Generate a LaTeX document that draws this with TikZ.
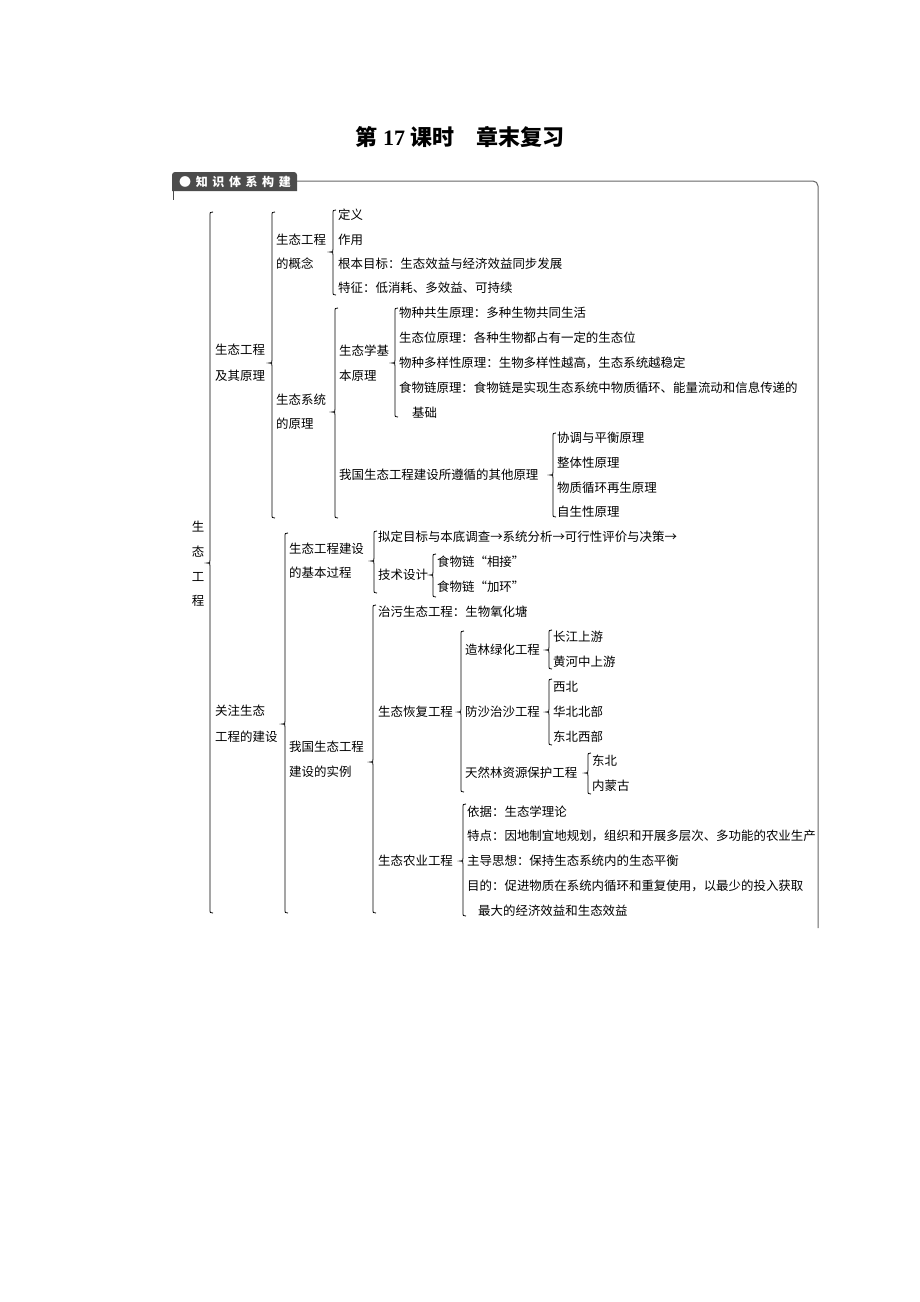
\documentclass[tikz,border=0pt]{standalone}
\usepackage{fontspec}
\setmainfont{Noto Sans CJK SC}
\newfontfamily\serifnum{Liberation Serif}
\newcommand\mybr[4]{%
 \draw[br] (#1+3,#2) .. controls (#1,#2) .. (#1,#2+4) -- (#1,#4-3) .. controls (#1,#4) .. (#1-3,#4) .. controls (#1,#4) .. (#1,#4+3) -- (#1,#3-4) .. controls (#1,#3) .. (#1+3,#3);}
\newcommand\hg{\hspace{4.6pt}}
\begin{document}
\begin{tikzpicture}[x=1pt,y=-1pt,
 t/.style={anchor=west,inner sep=0pt,font=\fontsize{12.45}{14}\selectfont},
 vc/.style={anchor=center,inner sep=0pt,font=\fontsize{12.45}{14}\selectfont},
 br/.style={line width=0.8pt,black}]
\useasboundingbox (0,0) rectangle (920,1302);
\fill[white] (0,0) rectangle (920,1302);
% title
\node[inner sep=0pt,font=\fontsize{22}{24}\selectfont\bfseries] (title) at (460,137) {第 {\serifnum 17} 课时\quad 章末复习};
% header tab and frame
\fill[black!70] (172,191) {[rounded corners=3pt] -- (172,172) -- (297,172)} -- (297,191) -- cycle;
\node[anchor=west,inner sep=0pt,text=white,font=\fontsize{12}{13}\selectfont\bfseries] (hdr) at (179,182) {●\hg 知\hg 识\hg 体\hg 系\hg 构\hg 建};
\draw[black!60,line width=1pt,rounded corners=5pt] (297,181) -- (818,181) -- (818,928);
\draw[black!70,line width=1pt] (173,191) -- (173,200);
% root
\node[vc] (r1) at (198,527) {生};
\node[vc] (r2) at (198,552) {态};
\node[vc] (r3) at (198,577) {工};
\node[vc] (r4) at (198,601) {程};
\mybr{210}{212}{913}{563}
% level 2
\node[t] (a1) at (215,350) {生态工程};
\node[t] (a2) at (215,376) {及其原理};
\mybr{272}{212}{518}{363}
\node[t] (b1) at (215,711) {关注生态};
\node[t] (b2) at (215,737) {工程的建设};
\mybr{285}{533}{913}{724}
% concept
\node[t] (c1) at (276,240) {生态工程};
\node[t] (c2) at (276,264) {的概念};
\mybr{333}{210}{295}{252}
\node[t] (d1) at (338,215) {定义};
\node[t] (d2) at (338,240) {作用};
\node[t] (d3) at (338,264) {根本目标：生态效益与经济效益同步发展};
\node[t] (d4) at (338,288) {特征：低消耗、多效益、可持续};
% system principles
\node[t] (e1) at (276,400) {生态系统};
\node[t] (e2) at (276,424) {的原理};
\mybr{335}{308}{518}{412}
\node[t] (f1) at (339,351) {生态学基};
\node[t] (f2) at (339,376) {本原理};
\mybr{395}{308}{417}{363}
\node[t] (g1) at (399,313) {物种共生原理：多种生物共同生活};
\node[t] (g2) at (399,338) {生态位原理：各种生物都占有一定的生态位};
\node[t] (g3) at (399,363) {物种多样性原理：生物多样性越高，生态系统越稳定};
\node[t] (g4) at (399,388) {食物链原理：食物链是实现生态系统中物质循环、能量流动和信息传递的};
\node[t] (g5) at (412,413) {基础};
\node[t] (h1) at (339,475) {我国生态工程建设所遵循的其他原理};
\mybr{553}{433}{517}{475}
\node[t] (i1) at (557,438) {协调与平衡原理};
\node[t] (i2) at (557,463) {整体性原理};
\node[t] (i3) at (557,488) {物质循环再生原理};
\node[t] (i4) at (557,512) {自生性原理};
% construction process
\node[t] (j1) at (289,549) {生态工程建设};
\node[t] (j2) at (289,573) {的基本过程};
\mybr{374}{531}{593}{561}
\node[t] (k1) at (378,537) {拟定目标与本底调查→系统分析→可行性评价与决策→};
\node[t] (k2) at (378,575) {技术设计};
\mybr{433}{554}{597}{575}
\node[t] (l1) at (437,562) {食物链“相接”};
\node[t] (l2) at (437,587) {食物链“加环”};
% examples
\node[t] (m1) at (289,747) {我国生态工程};
\node[t] (m2) at (289,772) {建设的实例};
\mybr{373}{605}{913}{762}
\node[t] (n1) at (378,612) {治污生态工程：生物氧化塘};
\node[t] (n2) at (378,712) {生态恢复工程};
\mybr{461}{631}{792}{712}
\node[t] (o1) at (465,650) {造林绿化工程};
\mybr{549}{630}{669}{650}
\node[t] (p1) at (553,637) {长江上游};
\node[t] (p2) at (553,662) {黄河中上游};
\node[t] (o2) at (465,712) {防沙治沙工程};
\mybr{549}{679}{745}{712}
\node[t] (q1) at (553,687) {西北};
\node[t] (q2) at (553,712) {华北北部};
\node[t] (q3) at (553,737) {东北西部};
\node[t] (o3) at (465,773) {天然林资源保护工程};
\mybr{588}{753}{794}{773}
\node[t] (s1) at (592,761) {东北};
\node[t] (s2) at (592,786) {内蒙古};
\node[t] (n3) at (378,861) {生态农业工程};
\mybr{463}{804}{916}{861}
\node[t] (u1) at (467,812) {依据：生态学理论};
\node[t] (u2) at (467,836) {特点：因地制宜地规划，组织和开展多层次、多功能的农业生产};
\node[t] (u3) at (467,861) {主导思想：保持生态系统内的生态平衡};
\node[t] (u4) at (467,886) {目的：促进物质在系统内循环和重复使用，以最少的投入获取};
\node[t] (u5) at (478,911) {最大的经济效益和生态效益};
\end{tikzpicture}
\end{document}
